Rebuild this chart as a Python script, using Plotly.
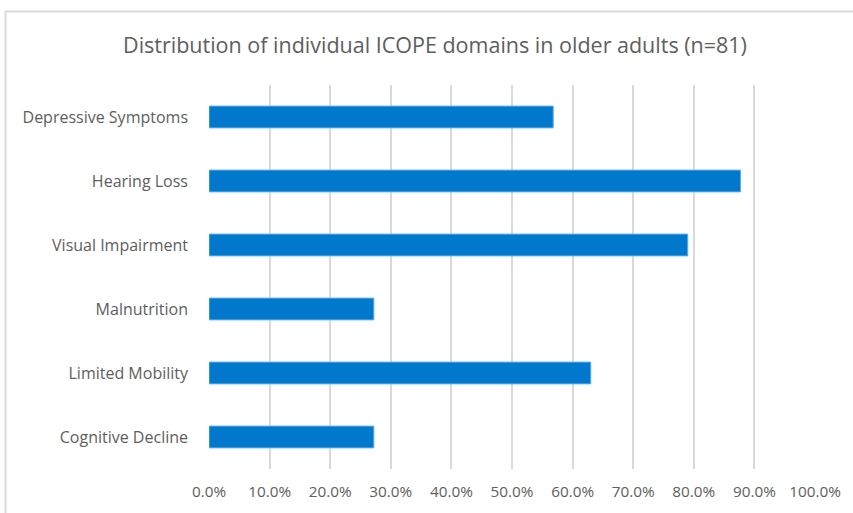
import plotly.graph_objects as go

categories = ["Depressive Symptoms", "Hearing Loss", "Visual Impairment",
              "Malnutrition", "Limited Mobility", "Cognitive Decline"]
values = [0.568, 0.877, 0.790, 0.272, 0.630, 0.272]
tick_vals = [i / 10 for i in range(11)]
title_text = "Distribution of individual ICOPE domains in older adults (n=81)"

W, H = 853, 513
L, R, T, B = 209, 38, 85, 41
pw, ph = W - L - R, H - T - B

def px_x(x):
    return (x - L) / pw

def px_y(y):
    return (H - B - y) / ph

fig = go.Figure(go.Bar(
    x=values, y=categories, orientation="h",
    marker=dict(color="#0278CC", line=dict(color="#5AAFEA", width=1)),
    hoverinfo="x+y",
))

fig.update_layout(
    width=W, height=H,
    margin=dict(l=L, r=R, t=T, b=B, pad=0),
    paper_bgcolor="white", plot_bgcolor="white",
    font=dict(family="Open Sans, sans-serif", color="#5E5E5E", size=15),
    title=dict(text=title_text, x=px_x(435), xref="paper", xanchor="center",
               y=1 - 45 / H, yanchor="middle",
               font=dict(size=21.5, color="#5E5E5E")),
    bargap=0.66,
    showlegend=False,
    xaxis=dict(range=[0, 1], tickvals=tick_vals, tickformat=".1%",
               showgrid=True, gridcolor="#D9D9D9", gridwidth=1.5,
               zeroline=False, showline=False, ticks="",
               ticklabelstandoff=12, tickfont=dict(size=15.3, color="#5E5E5E")),
    yaxis=dict(categoryorder="array", categoryarray=categories[::-1],
               showgrid=False, zeroline=False, showline=False, ticks="",
               ticklabelstandoff=20, tickfont=dict(size=16, color="#5E5E5E")),
    shapes=[
        dict(type="line", xref="paper", yref="paper",
             x0=px_x(5.5), x1=px_x(5.5), y0=px_y(11), y1=px_y(H + 5),
             line=dict(color="#D9D9D9", width=2)),
        dict(type="line", xref="paper", yref="paper",
             x0=px_x(5), x1=px_x(W + 5), y0=px_y(11), y1=px_y(11),
             line=dict(color="#D9D9D9", width=2)),
    ],
)

fig.write_html("out.html")
